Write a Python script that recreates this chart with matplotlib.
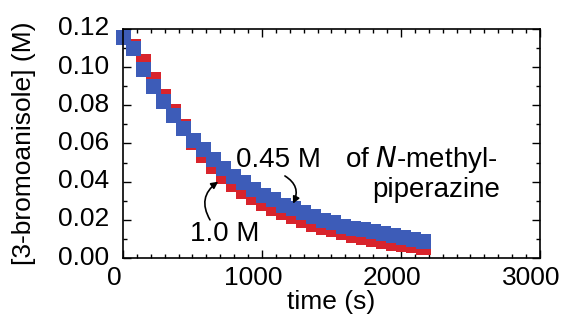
import matplotlib.pyplot as plt
import matplotlib.transforms as mtransforms
from matplotlib.ticker import MultipleLocator

plt.rcParams['font.family'] = ['Liberation Sans', 'DejaVu Sans']

# czas (s)
czas = [0, 72, 144, 216, 288, 360, 432, 504, 576, 648, 720, 792, 864, 936, 1008,
        1080, 1152, 1224, 1296, 1368, 1440, 1512, 1584, 1656, 1728, 1800, 1872,
        1944, 2016, 2088, 2160]
# 1.0 M N-methylpiperazine
stez_10 = [0.116, 0.111, 0.103, 0.094, 0.085, 0.077, 0.069, 0.061, 0.054, 0.048,
           0.043, 0.039, 0.035, 0.032, 0.029, 0.026, 0.024, 0.022, 0.020, 0.018,
           0.0165, 0.015, 0.0135, 0.012, 0.011, 0.010, 0.009, 0.008, 0.0072,
           0.0066, 0.006]
# 0.45 M N-methylpiperazine
stez_045 = [0.116, 0.110, 0.099, 0.090, 0.082, 0.075, 0.068, 0.062, 0.057, 0.052,
            0.047, 0.043, 0.040, 0.036, 0.033, 0.031, 0.028, 0.026, 0.024, 0.022,
            0.020, 0.019, 0.017, 0.016, 0.015, 0.014, 0.013, 0.012, 0.011,
            0.010, 0.009]

fig = plt.figure(figsize=(5.65, 3.21), dpi=100)
ax = fig.add_axes([0.2177, 0.196, 0.738, 0.714])

ax.plot(czas, stez_10, 's', color='#d8242c', markersize=10.8, mew=0, clip_on=False)
ax.plot(czas, stez_045, 's', color='#3d5cb8', markersize=10.8, mew=0, clip_on=False)

ax.set_xlim(0, 3000)
ax.set_ylim(0, 0.12)
ax.set_xticks([0, 1000, 2000, 3000])
ax.set_yticks([0, 0.02, 0.04, 0.06, 0.08, 0.10, 0.12])
ax.set_yticklabels(['0.00', '0.02', '0.04', '0.06', '0.08', '0.10', '0.12'])
ax.xaxis.set_minor_locator(MultipleLocator(100))
ax.yaxis.set_minor_locator(MultipleLocator(0.01))
ax.tick_params(which='both', direction='in', top=True, right=True, labelsize=19, width=1)
ax.tick_params(which='major', length=6)
ax.tick_params(which='minor', length=3)
ax.tick_params(axis='x', pad=6)
ax.tick_params(axis='y', pad=10)
for s in ax.spines.values():
    s.set_linewidth(1.2)

# etykiety osi x przesuniete w lewo, jak w oryginale
przes = mtransforms.ScaledTranslation(-9 / 100, 0, fig.dpi_scale_trans)
for lab in ax.get_xticklabels():
    lab.set_transform(lab.get_transform() + przes)
przes_y = mtransforms.ScaledTranslation(0, 3 / 100, fig.dpi_scale_trans)
for lab in ax.get_yticklabels():
    lab.set_transform(lab.get_transform() + przes_y)

ax.set_xlabel('time (s)', fontsize=19, labelpad=0)
ax.set_ylabel('[3-bromoanisole] (M)', fontsize=19, labelpad=16)

ax.text(810, 0.0515, '0.45 M', fontsize=20, va='center', ha='left')
ax.text(1597, 0.0515, 'of $\\it{N}$-methyl-', fontsize=20, va='center', ha='left')
ax.text(1791, 0.0356, 'piperazine', fontsize=20, va='center', ha='left')
ax.text(480, 0.0126, '1.0 M', fontsize=20, va='center', ha='left')

ax.annotate('', xy=(1223, 0.0285), xytext=(1165, 0.0430),
            arrowprops=dict(arrowstyle='-|>', color='black', lw=1.2,
                            connectionstyle='arc3,rad=-0.45', shrinkA=0, shrinkB=0,
                            mutation_scale=10))
ax.annotate('', xy=(685, 0.0400), xytext=(626, 0.0200),
            arrowprops=dict(arrowstyle='-|>', color='black', lw=1.2,
                            connectionstyle='arc3,rad=-0.45', shrinkA=0, shrinkB=0,
                            mutation_scale=10))

fig.savefig('out.png', dpi=100)
